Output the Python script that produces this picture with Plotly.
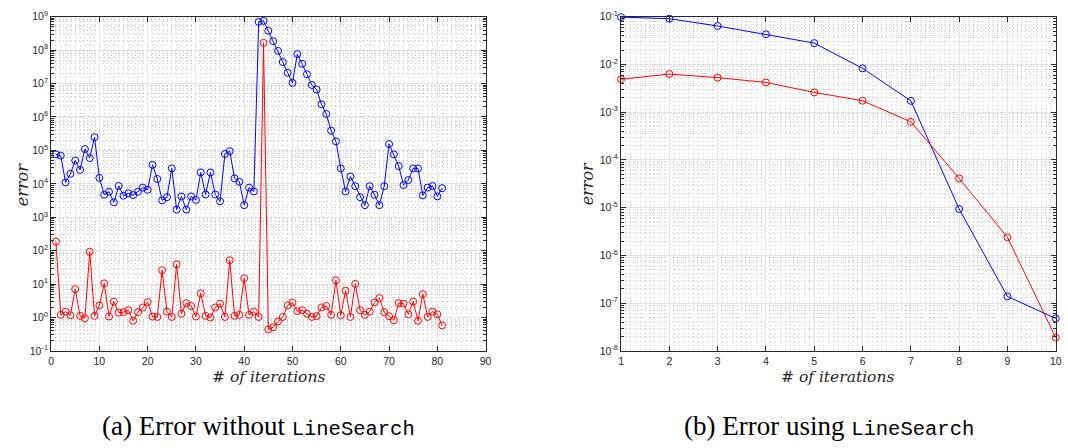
import plotly.graph_objects as go

# ---------------- data ----------------
iters_a = list(range(1, 82))
err_a_blue = [7.6e4, 7.0e4, 1.1e4, 2.0e4, 5.0e4, 2.6e4, 1.1e5, 5.9e4, 2.5e5, 1.5e4,
              4.7e3, 5.8e3, 2.8e3, 8.6e3, 4.4e3, 5.2e3, 4.6e3, 5.8e3, 7.7e3, 6.6e3,
              3.7e4, 1.4e4, 3.2e3, 4.0e3, 2.9e4, 1.7e3, 4.2e3, 1.7e3, 4.2e3, 3.3e3,
              2.2e4, 4.8e3, 2.2e4, 4.8e3, 3.0e3, 7.8e4, 9.5e4, 1.45e4, 1.15e4, 2.3e3,
              7.7e3, 5.9e3, 7.0e8, 7.5e8, 3.8e8, 1.85e8, 9.5e7, 4.4e7, 2.1e7, 1.05e7,
              7.6e7, 3.9e7, 1.9e7, 9.1e6, 6.6e6, 2.4e6, 1.23e6, 3.9e5, 1.86e5, 2.9e4,
              5.9e3, 1.65e4, 8.5e3, 4.0e3, 2.3e3, 8.5e3, 4.7e3, 2.3e3, 8.5e3, 1.55e5,
              7.6e4, 3.4e4, 9.2e3, 1.3e4, 2.9e4, 2.9e4, 4.5e3, 7.7e3, 8.6e3, 4.2e3,
              7.4e3]
err_a_red = [186, 1.2, 1.5, 1.17, 7.1, 1.12, 0.95, 93, 1.12, 2.3,
             10.5, 1.07, 3.0, 1.4, 1.45, 1.65, 0.8, 1.45, 2.0, 2.9,
             1.07, 1.04, 26, 1.5, 1.04, 39, 1.3, 2.7, 2.2, 1.07,
             5.3, 1.12, 1.0, 2.0, 2.6, 1.04, 52, 1.12, 1.2, 15,
             1.2, 1.5, 1.04, 1.65e8, 0.44, 0.51, 0.76, 1.04, 2.3, 2.8,
             1.55, 1.65, 1.3, 1.04, 1.1, 2.0, 2.2, 1.2, 13, 1.17,
             6.3, 1.04, 10.2, 1.65, 1.2, 1.5, 2.8, 3.8, 1.45, 1.1,
             0.83, 2.7, 2.6, 1.25, 3.0, 0.8, 5.0, 1.04, 1.5, 1.25,
             0.58]

iters_b = [1, 2, 3, 4, 5, 6, 7, 8, 9, 10]
err_b_blue = [0.098, 0.091, 0.064, 0.043, 0.028, 0.0083, 1.73e-3, 9.4e-6, 1.38e-7, 4.8e-8]
err_b_red = [4.9e-3, 6.3e-3, 5.3e-3, 4.2e-3, 2.6e-3, 1.74e-3, 6.3e-4, 4.1e-5, 2.4e-6, 1.9e-8]

xticks_a = [0, 10, 20, 30, 40, 50, 60, 70, 80, 90]
xticks_b = [1, 2, 3, 4, 5, 6, 7, 8, 9, 10]
yexp_a = list(range(-1, 10))
yexp_b = list(range(-8, 0))

MONO = "<span style='font-family:Liberation Mono;font-size:20.5px'>LineSearch</span>"
caption_a = "(a) Error without " + MONO
caption_b = "(b) Error using " + MONO
xlabel = "# of iterations"
ylabel = "error"

# ---------------- styling ----------------
W, H = 1068, 448
AX = "#262626"
MAJ = "#e3e3e3"
MIN = "#c8c8c8"
TICKFONT = dict(family="Liberation Sans, Arial", size=10.5, color=AX)
SERIF = "DejaVu Serif, Liberation Serif, serif"
CAPSERIF = "Liberation Serif, DejaVu Serif, serif"

ydom = [1 - 354 / H, 1 - 9 / H]
xdom_a = [48.5 / W, 486.7 / W]
xdom_b = [623.3 / W, 1061.7 / W]


def minor_log(exps):
    vals = []
    for e in exps[:-1]:
        for k in range(2, 10):
            vals.append(k * 10.0 ** e)
    return vals


def minor_lin(lo, hi, step):
    n = int(round((hi - lo) / step))
    return [lo + i * step for i in range(n + 1)]


def xaxis(dom, ticks, rng, mstep, anchor):
    return dict(domain=dom, range=rng, anchor=anchor, tickmode="array", tickvals=ticks,
                ticktext=[str(t) for t in ticks], ticks="inside", ticklen=5, tickcolor=AX,
                showline=True, linecolor=AX, linewidth=1, mirror="allticks",
                showgrid=True, gridcolor=MAJ, gridwidth=1, zeroline=False,
                tickfont=TICKFONT,
                minor=dict(tickmode="array", tickvals=minor_lin(rng[0], rng[1], mstep),
                           showgrid=True, gridcolor=MIN, griddash="1px,3px", gridwidth=1,
                           ticks=""))


def yaxis(exps, anchor):
    return dict(domain=ydom, type="log", range=[exps[0], exps[-1]], anchor=anchor,
                tickmode="array", tickvals=[10.0 ** e for e in exps],
                ticktext=["10<sup>%d</sup>" % e for e in exps],
                ticks="inside", ticklen=5, tickcolor=AX,
                showline=True, linecolor=AX, linewidth=1, mirror="allticks",
                showgrid=True, gridcolor=MAJ, gridwidth=1, zeroline=False,
                tickfont=TICKFONT,
                minor=dict(tickmode="array", tickvals=minor_log(exps),
                           showgrid=True, gridcolor=MIN, griddash="1px,3px", gridwidth=1,
                           ticks="inside", ticklen=3, tickcolor=AX))


def trace(x, y, color, xa, ya):
    return go.Scatter(x=x, y=y, mode="lines+markers", xaxis=xa, yaxis=ya,
                      line=dict(color=color, width=1),
                      marker=dict(symbol="circle-open", size=7, color=color,
                                  line=dict(width=1, color=color)),
                      showlegend=False, cliponaxis=False)


fig = go.Figure()
fig.add_trace(trace(iters_a, err_a_blue, "#0000ff", "x", "y"))
fig.add_trace(trace(iters_a, err_a_red, "#ff0000", "x", "y"))
fig.add_trace(trace(iters_b, err_b_blue, "#0000ff", "x2", "y2"))
fig.add_trace(trace(iters_b, err_b_red, "#ff0000", "x2", "y2"))

annotations = []
for cx in (268, 842):
    annotations.append(dict(text="<i>" + xlabel + "</i>", x=cx / W, y=1 - 381 / H, xref="paper", yref="paper",
                            showarrow=False, xanchor="center", yanchor="middle",
                            font=dict(family=SERIF, size=15.5, color=AX)))
for xc in (19, 589):
    annotations.append(dict(text="<i>" + ylabel + "</i>", x=xc / W, y=1 - 182 / H, xref="paper", yref="paper",
                            showarrow=False, textangle=-90, xanchor="center", yanchor="middle",
                            font=dict(family=SERIF, size=16, color=AX)))
annotations.append(dict(text=caption_a, x=258 / W, y=1 - 431 / H, xref="paper", yref="paper",
                        showarrow=False, xanchor="center", yanchor="middle",
                        font=dict(family=CAPSERIF, size=27, color="#000000")))
annotations.append(dict(text=caption_b, x=833 / W, y=1 - 431 / H, xref="paper", yref="paper",
                        showarrow=False, xanchor="center", yanchor="middle",
                        font=dict(family=CAPSERIF, size=27, color="#000000")))

fig.update_layout(
    width=W, height=H, margin=dict(l=0, r=0, t=0, b=0),
    paper_bgcolor="white", plot_bgcolor="white",
    xaxis=xaxis(xdom_a, xticks_a, [0, 90], 1, "y"),
    yaxis=yaxis(yexp_a, "x"),
    xaxis2=xaxis(xdom_b, xticks_b, [1, 10], 0.1, "y2"),
    yaxis2=yaxis(yexp_b, "x2"),
    annotations=annotations,
)

fig.write_html("out.html")
